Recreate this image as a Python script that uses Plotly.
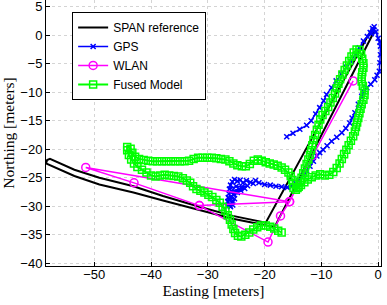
import plotly.graph_objects as go

# ---------------- data ----------------
span_e = [-1.2, -19.8, -25.6, -31.5, -37.9, -43.1, -49.1, -53.5, -57.8, -58.3, -58.5,
          -53.5, -49.1, -43.1, -37.9, -31.5, -25.6, -19.6, -18.2, -0.6]
span_n = [1.0, -32.9, -31.7, -30.1, -28.2, -26.5, -25.0, -23.6, -21.7, -21.9, -22.5,
          -24.7, -26.2, -27.6, -29.0, -30.6, -32.2, -33.4, -33.6, 0.9]

gps_e = [-16.1, -15.0, -13.8, -12.6, -11.8, -11.0, -10.3, -9.6, -9.1, -8.2, -7.4, -6.5,
         -5.6, -4.8, -4.0, -3.3, -2.6, -1.9, -1.4, -1.0, -0.7, -0.9, -1.2, -0.8, -0.4,
         0.0, 0.3, 0.4, 0.4, 0.3, 0.2, -0.2, -0.6, -1.3, -2.0, -2.5, -2.9, -3.5, -4.1,
         -4.6, -5.0, -5.7, -6.4, -7.3, -8.2, -9.0, -9.7, -10.3, -10.8, -11.4, -12.0,
         -12.6, -13.2, -13.9, -14.5, -15.2, -16.0, -17.0, -18.0, -19.0, -20.0, -21.0,
         -21.6, -22.0, -22.5, -23.2, -23.8, -24.3, -24.8, -25.3, -25.7, -26.0, -26.2,
         -25.0, -24.0, -23.0, -24.5, -25.8, -26.3, -25.2, -24.2, -23.5, -24.8, -25.5,
         -26.4, -26.5, -26.1, -25.7, -25.9, -25.3, -25.6, -26.0, -26.6, -26.2, -25.4]
gps_n = [-17.8, -17.2, -16.5, -15.8, -15.0, -13.8, -12.7, -11.5, -10.4, -9.2, -8.0, -6.8,
         -5.6, -4.6, -3.4, -2.2, -1.0, -0.2, 0.5, 1.2, 1.5, 0.8, 0.3, 1.0, 0.6,
         -0.5, -1.2, -1.9, -3.4, -4.8, -6.3, -7.0, -7.8, -8.6, -9.2, -9.9, -10.7, -12.1,
         -13.6, -14.5, -15.4, -16.3, -17.1, -17.9, -18.6, -19.4, -20.1, -20.6, -21.2,
         -22.1, -23.0, -23.8, -24.7, -25.4, -26.0, -26.5, -26.7, -26.6, -26.5, -26.3,
         -26.2, -25.9, -25.5, -26.0, -25.8, -25.5, -25.9, -25.4, -25.6, -25.3, -25.7,
         -26.3, -27.0, -26.5, -26.6, -26.4, -27.0, -27.3, -27.8, -27.5, -27.2, -26.9,
         -27.6, -28.0, -28.5, -29.2, -29.9, -29.3, -28.4, -28.7, -29.8, -30.1, -30.0,
         -28.9, -27.9]

wlan_e = [-4.4, -11.5, -15.6, -17.2, -19.4, -31.5, -43.0, -51.5, -15.6, -31.5]
wlan_n = [-8.0, -21.1, -29.2, -31.7, -36.3, -29.9, -25.9, -23.2, -29.2, -29.9]

fused_e = [-17.0, -17.6, -18.3, -19.0, -19.8, -20.6, -21.3, -22.0, -22.7, -23.4, -24.1,
           -24.7, -25.2, -25.5, -25.8, -26.1, -26.5, -26.9, -27.4, -27.9, -28.5, -29.2,
           -29.9, -30.6, -31.3, -32.0, -32.6, -33.1, -33.7, -34.4, -35.2, -36.0, -36.8,
           -37.6, -38.4, -39.2, -40.0, -40.8, -41.6, -42.4, -43.0, -43.5, -43.9, -44.2,
           -44.2, -43.6, -43.3, -42.8, -42.1, -41.3, -40.5, -39.7, -38.9, -38.1, -37.3,
           -36.5, -35.7, -34.9, -34.1, -33.3, -32.5, -31.7, -30.9, -30.1, -29.3, -28.5,
           -27.7, -26.9, -26.2, -25.5, -24.8, -24.0, -23.3, -22.6, -21.9, -21.2, -20.5,
           -19.8, -19.1, -18.4, -17.7, -17.0, -16.4, -15.8, -15.4, -15.1, -15.0, -14.9,
           -14.5, -14.0, -13.7, -13.5, -13.2, -12.9, -12.6, -12.3, -12.0, -11.8, -11.6,
           -11.4, -11.1, -10.8, -10.5, -10.2, -9.8, -9.3, -8.8, -8.4, -8.0, -7.6, -7.3,
           -7.0, -6.7, -6.3, -5.9, -5.5, -5.1, -4.7, -4.3, -3.8, -3.3, -3.0, -2.8, -2.6,
           -2.6, -2.8, -2.9, -2.9, -2.7, -2.4, -2.4, -2.6, -2.9, -3.1, -3.3, -3.5, -3.7,
           -3.9, -4.1, -4.4, -4.8, -5.2, -5.6, -6.0, -6.4, -6.8, -7.3, -7.9, -8.6, -9.4,
           -10.2, -11.0, -11.7, -12.4, -13.0, -13.6, -14.2]
fused_n = [-34.6, -34.3, -33.9, -33.6, -33.4, -33.4, -33.7, -34.1, -34.6, -35.0, -35.3,
           -35.2, -34.7, -34.0, -33.2, -32.4, -31.6, -30.8, -30.1, -29.4, -28.9, -28.4,
           -28.0, -27.6, -27.3, -27.0, -26.5, -25.9, -25.5, -25.1, -24.8, -24.7, -24.6,
           -24.5, -24.6, -24.8, -24.6, -24.1, -23.6, -23.1, -22.5, -21.8, -21.0, -20.2,
           -19.6, -19.9, -20.6, -21.3, -21.7, -21.9, -22.0, -22.1, -22.1, -22.1, -22.1,
           -22.1, -22.1, -22.1, -22.1, -22.0, -21.7, -21.5, -21.5, -21.5, -21.5, -21.6,
           -21.7, -21.8, -22.1, -22.5, -22.8, -23.0, -23.0, -22.6, -22.0, -21.8, -22.0,
           -22.3, -22.5, -22.7, -22.9, -23.2, -23.6, -24.1, -24.7, -25.4, -26.1, -26.8,
           -27.1, -26.6, -25.8, -25.0, -24.2, -23.4, -22.6, -21.8, -21.0, -20.2, -19.3,
           -18.4, -17.5, -16.6, -15.7, -14.8, -14.0, -13.3, -12.6, -11.8, -11.0, -10.2,
           -9.3, -8.5, -7.7, -6.9, -6.1, -5.3, -4.5, -3.7, -3.0, -2.5, -2.6, -3.3, -4.1,
           -4.9, -5.7, -6.5, -7.3, -8.1, -8.9, -9.7, -10.5, -11.3, -12.1, -12.9, -13.7,
           -14.5, -15.3, -16.1, -16.9, -17.7, -18.5, -19.3, -20.1, -20.9, -21.7, -22.5,
           -23.3, -24.0, -24.5, -24.6, -24.4, -24.6, -24.9, -25.3, -25.8, -26.3, -26.8]

x_ticks = [-50, -40, -30, -20, -10, 0]
y_ticks = [5, 0, -5, -10, -15, -20, -25, -30, -35, -40]

# ---------------- figure ----------------
fig = go.Figure()
fig.add_trace(go.Scatter(x=span_e, y=span_n, mode="lines", name="SPAN reference",
                         line=dict(color="#000000", width=2)))
fig.add_trace(go.Scatter(x=gps_e, y=gps_n, mode="lines+markers", name="GPS",
                         line=dict(color="#0000ff", width=1.5),
                         marker=dict(symbol="x-thin", size=5, color="#0000ff",
                                     line=dict(color="#0000ff", width=1.5))))
fig.add_trace(go.Scatter(x=wlan_e, y=wlan_n, mode="lines+markers", name="WLAN",
                         line=dict(color="#ff00ff", width=1.5),
                         marker=dict(symbol="circle-open", size=8, color="#ff00ff",
                                     line=dict(color="#ff00ff", width=1.5))))
fig.add_trace(go.Scatter(x=fused_e, y=fused_n, mode="lines+markers", name="Fused Model",
                         line=dict(color="#00ff00", width=2),
                         marker=dict(symbol="square-open", size=7, color="#00ff00",
                                     line=dict(color="#00ff00", width=1.5))))

axis_common = dict(showline=True, linecolor="#000000", linewidth=1, mirror=True,
                   ticks="inside", ticklen=4, tickcolor="#000000",
                   showgrid=True, gridcolor="#d4d4d4", griddash="dot", gridwidth=1,
                   zeroline=False, ticklabeloverflow="allow",
                   tickfont=dict(family="Liberation Sans, Arial", size=13, color="#000000"))

fig.update_xaxes(range=[-58.5, 0.5], tickvals=x_ticks, automargin=False,
                 ticklabelstandoff=-4,
                 title=dict(text="Easting [meters]", standoff=2,
                            font=dict(family="Liberation Serif, Times New Roman", size=15.5,
                                      color="#000000")),
                 **axis_common)
fig.update_yaxes(range=[-40.5, 6.2], tickvals=y_ticks, automargin=False,
                 title=dict(text="Northing [meters]", standoff=6,
                            font=dict(family="Liberation Serif, Times New Roman", size=15.5,
                                      color="#000000")),
                 **axis_common)

fig.update_layout(
    width=387, height=305,
    margin=dict(l=46, r=6, t=0, b=39),
    paper_bgcolor="#ffffff", plot_bgcolor="#ffffff",
    showlegend=True,
    legend=dict(x=0.078, y=0.955, xanchor="left", yanchor="top",
                bgcolor="#ffffff", bordercolor="#000000", borderwidth=1,
                font=dict(family="Liberation Sans, Arial", size=12, color="#000000"),
                tracegroupgap=0, itemwidth=30),
)

fig.write_html("out.html", config={"displayModeBar": False},
               post_script="document.body.style.margin='0px';document.body.style.overflow='hidden';")
